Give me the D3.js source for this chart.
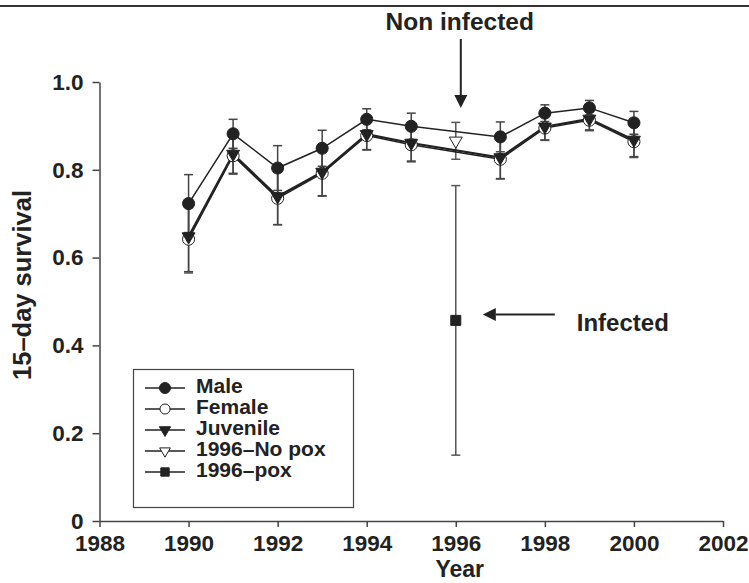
<!DOCTYPE html>
<html lang="en">
<head>
<meta charset="UTF-8" />
<title>15-day survival</title>
<script src="https://cdn.jsdelivr.net/npm/d3@7"></script>
<style>
    body { margin: 0; background: #fff; }
    svg { display: block; }
    text { font-family: 'Liberation Sans', Arial, sans-serif; font-weight: bold; fill: #222; }
</style>
</head>
<body>
<div id="chart"></div>
<script>
// values
const years = [1990, 1991, 1992, 1993, 1994, 1995, 1997, 1998, 1999, 2000]
const maleSurvival = [0.723, 0.882, 0.804, 0.849, 0.915, 0.899, 0.875, 0.929, 0.941, 0.907]
const maleError = [0.066, 0.033, 0.051, 0.041, 0.024, 0.030, 0.034, 0.019, 0.017, 0.026]
const femaleSurvival = [0.642, 0.832, 0.735, 0.792, 0.878, 0.857, 0.824, 0.895, 0.913, 0.864]
const femaleError = [0.077, 0.042, 0.060, 0.052, 0.033, 0.039, 0.045, 0.028, 0.024, 0.036]
const juvenileSurvival = [0.648, 0.836, 0.739, 0.795, 0.881, 0.861, 0.828, 0.898, 0.916, 0.868]
const juvenileError = [0.080, 0.044, 0.064, 0.054, 0.035, 0.041, 0.048, 0.030, 0.025, 0.038]
const outbreakYear = [1996]
const noPoxSurvival = [0.866]
const noPoxError = [0.042]
const poxSurvival = [0.457]
const poxError = [0.307]

const xTicks = [1988, 1990, 1992, 1994, 1996, 1998, 2000, 2002]
const yTicks = [0, 0.2, 0.4, 0.6, 0.8, 1.0]
const legendLabels = ['Male', 'Female', 'Juvenile', '1996–No pox', '1996–pox']

const width = 749
const height = 583
const ink = '#222'

const svg = d3.select('#chart').append('svg').attr('width', width).attr('height', height)

const x = d3.scaleLinear().domain([1988, 2002]).range([99.5, 723])
const y = d3.scaleLinear().domain([0, 1]).range([521, 82])

// rule across the top of the figure
svg.append('line')
    .attr('x1', 0).attr('x2', width).attr('y1', 6).attr('y2', 6)
    .attr('stroke', '#333').attr('stroke-width', 2)

// axes
const yAxis = svg.append('g')
    .attr('transform', `translate(${x(1988)},0)`)
    .call(d3.axisLeft(y).tickValues(yTicks).tickSize(7).tickSizeOuter(0).tickPadding(9)
        .tickFormat((d) => (d === 0 ? '0' : d.toFixed(1))))
const xAxis = svg.append('g')
    .attr('transform', `translate(0,${y(0)})`)
    .call(d3.axisBottom(x).tickValues(xTicks).tickSize(6).tickSizeOuter(0).tickPadding(8).tickFormat(d3.format('d')))

;[yAxis, xAxis].forEach((g) => {
    g.selectAll('path, line').attr('stroke', '#444').attr('stroke-width', 1.5)
    g.selectAll('text').style('font-size', '22.5px').style('font-family', null).attr('fill', ink)
})

svg.append('text')
    .attr('transform', `translate(31,285) rotate(-90)`)
    .attr('text-anchor', 'middle')
    .style('font-size', '25.5px')
    .text('15–day survival')

svg.append('text')
    .attr('x', x(1996) + 4).attr('y', 577)
    .attr('text-anchor', 'middle')
    .style('font-size', '23px')
    .text('Year')

// build series from the arrays
const series = (vals, errs) => years.map((yr, i) => ({ year: yr, value: vals[i], err: errs[i] }))
const male = series(maleSurvival, maleError)
const female = series(femaleSurvival, femaleError)
const juvenile = series(juvenileSurvival, juvenileError)
const noPox = outbreakYear.map((yr, i) => ({ year: yr, value: noPoxSurvival[i], err: noPoxError[i] }))
const pox = outbreakYear.map((yr, i) => ({ year: yr, value: poxSurvival[i], err: poxError[i] }))

const drawErrors = (data, color, w) => {
    const g = svg.append('g').attr('stroke', color).attr('stroke-width', w)
    data.forEach((d) => {
        const cx = x(d.year)
        const lo = y(d.value - d.err)
        const hi = y(d.value + d.err)
        g.append('line').attr('x1', cx).attr('x2', cx).attr('y1', lo).attr('y2', hi)
        g.append('line').attr('x1', cx - 4.5).attr('x2', cx + 4.5).attr('y1', lo).attr('y2', lo)
        g.append('line').attr('x1', cx - 4.5).attr('x2', cx + 4.5).attr('y1', hi).attr('y2', hi)
    })
}

drawErrors(female, '#555', 1.5)
drawErrors(juvenile, '#444', 1.5)
drawErrors(male, '#444', 1.5)
drawErrors(noPox, '#555', 1.5)
drawErrors(pox, '#555', 1.5)

const line = d3.line().x((d) => x(d.year)).y((d) => y(d.value))
svg.append('path').attr('d', line(female)).attr('fill', 'none').attr('stroke', ink).attr('stroke-width', 1.5)
svg.append('path').attr('d', line(juvenile)).attr('fill', 'none').attr('stroke', ink).attr('stroke-width', 2.2)
svg.append('path').attr('d', line(male)).attr('fill', 'none').attr('stroke', ink).attr('stroke-width', 1.5)

const circle = d3.symbol().type(d3.symbolCircle).size(115)
const triangle = d3.symbol().type(d3.symbolTriangle).size(72)
const square = d3.symbol().type(d3.symbolSquare).size(100)

const drawMarks = (data, sym, fill, rot) => {
    svg.append('g').selectAll('path')
        .data(data)
        .enter()
        .append('path')
        .attr('d', sym)
        .attr('transform', (d) => `translate(${x(d.year)},${y(d.value)}) rotate(${rot})`)
        .attr('fill', fill)
        .attr('stroke', ink)
        .attr('stroke-width', 1)
}

drawMarks(female, circle, '#fff', 0)
drawMarks(juvenile, triangle, ink, 180)
drawMarks(male, circle, ink, 0)
drawMarks(noPox, triangle, '#fff', 180)
drawMarks(pox, square, ink, 0)

// annotations
const arrow = (x1, y1, x2, y2) => {
    const ang = Math.atan2(y2 - y1, x2 - x1)
    const len = 13
    const half = 6.5
    const bx = x2 - len * Math.cos(ang)
    const by = y2 - len * Math.sin(ang)
    svg.append('line')
        .attr('x1', x1).attr('y1', y1).attr('x2', bx).attr('y2', by)
        .attr('stroke', ink).attr('stroke-width', 2)
    const px = -Math.sin(ang) * half
    const py = Math.cos(ang) * half
    svg.append('path')
        .attr('d', `M${x2},${y2}L${bx + px},${by + py}L${bx - px},${by - py}Z`)
        .attr('fill', ink)
}

const xNote = x(outbreakYear[0])
svg.append('text')
    .attr('x', xNote + 4).attr('y', 30)
    .attr('text-anchor', 'middle')
    .style('font-size', '24.5px')
    .text('Non infected')
arrow(xNote + 5, 39, xNote + 5, 108)

arrow(xNote + 99, y(poxSurvival[0]) - 6, xNote + 27, y(poxSurvival[0]) - 6)
svg.append('text')
    .attr('x', xNote + 121).attr('y', y(poxSurvival[0]) + 11)
    .style('font-size', '24px')
    .text('Infected')

// legend
const legend = svg.append('g')
legend.append('rect')
    .attr('x', 133.5).attr('y', 369.5).attr('width', 220).attr('height', 138)
    .attr('fill', '#fff').attr('stroke', '#444').attr('stroke-width', 1.2)

const legendSyms = [
    { sym: d3.symbol().type(d3.symbolCircle).size(95), fill: ink, rot: 0 },
    { sym: d3.symbol().type(d3.symbolCircle).size(80), fill: '#fff', rot: 0 },
    { sym: d3.symbol().type(d3.symbolTriangle).size(55), fill: ink, rot: 180 },
    { sym: d3.symbol().type(d3.symbolTriangle).size(50), fill: '#fff', rot: 180 },
    { sym: d3.symbol().type(d3.symbolSquare).size(70), fill: ink, rot: 0 },
]
const rowY = d3.scaleLinear().domain([0, legendLabels.length - 1]).range([388, 472])

legendLabels.forEach((label, i) => {
    const ry = rowY(i)
    legend.append('line')
        .attr('x1', 145).attr('x2', 185).attr('y1', ry).attr('y2', ry)
        .attr('stroke', ink).attr('stroke-width', 1.5)
    legend.append('path')
        .attr('d', legendSyms[i].sym())
        .attr('transform', `translate(165,${ry}) rotate(${legendSyms[i].rot})`)
        .attr('fill', legendSyms[i].fill)
        .attr('stroke', ink)
        .attr('stroke-width', 1)
    legend.append('text')
        .attr('x', 196).attr('y', ry + 5)
        .style('font-size', '21px')
        .text(label)
})
</script>
</body>
</html>
